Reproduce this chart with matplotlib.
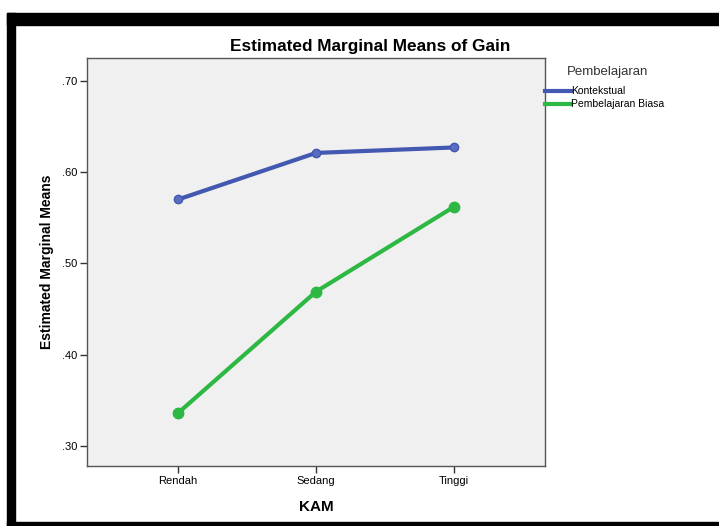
import numpy as np
import matplotlib.pyplot as plt
from matplotlib.patches import Rectangle
from matplotlib.lines import Line2D

plt.rcParams['font.family'] = ['Liberation Sans', 'DejaVu Sans']

categories = ['Rendah', 'Sedang', 'Tinggi']
kontekstual = [0.570, 0.621, 0.627]
biasa = [0.336, 0.469, 0.562]
yticks = [0.30, 0.40, 0.50, 0.60, 0.70]
ytick_labels = ['.30', '.40', '.50', '.60', '.70']

W, H = 719, 526
fig = plt.figure(figsize=(W / 100, H / 100), dpi=100)

def fx(px):
    return px / W

def fy(py):
    return 1 - py / H

# black screenshot borders
for x0, y0, x1, y1 in [(7, 13, 719, 25), (7, 13, 15, 526), (7, 522, 719, 526)]:
    fig.patches.append(Rectangle((fx(x0), fy(y1)), fx(x1) - fx(x0), fy(y0) - fy(y1),
                                 transform=fig.transFigure, color='black', zorder=0))

ax = fig.add_axes([fx(87), fy(466), fx(545) - fx(87), fy(58) - fy(466)])
ax.set_facecolor('#F0F0F0')

x = np.arange(len(categories))
blue = '#4358B0'
green = '#2DB843'
ax.plot(x, kontekstual, color=blue, linewidth=3, marker='o', markersize=6,
        markerfacecolor='#5A6DC0', markeredgecolor=blue)
ax.plot(x, biasa, color=green, linewidth=3, marker='o', markersize=7.5)

ax.set_xlim(-0.66, 2.66)
ax.set_ylim(0.278, 0.725)
ax.set_xticks(x)
ax.set_xticklabels(categories, fontsize=8)
ax.set_yticks(yticks)
ax.set_yticklabels(ytick_labels, fontsize=8)
ax.tick_params(direction='out', length=5, width=1, color='#333333', pad=2)
for s in ax.spines.values():
    s.set_color('#555555')
    s.set_linewidth(1)

ax.set_xlabel('KAM', fontsize=11, fontweight='bold', labelpad=10)
ax.set_ylabel('Estimated Marginal Means', fontsize=10, fontweight='bold', labelpad=6)
fig.text(fx(370), fy(46), 'Estimated Marginal Means of Gain', fontsize=12.4,
         fontweight='bold', ha='center', va='center')

# legend
fig.text(fx(567), fy(72), 'Pembelajaran', fontsize=9.5, color='#333333', va='center')
for yy, col, lab in [(91, blue, 'Kontekstual'), (104, green, 'Pembelajaran Biasa')]:
    fig.lines.append(Line2D([fx(545), fx(571)], [fy(yy), fy(yy)], color=col,
                            linewidth=3, transform=fig.transFigure))
    fig.text(fx(571), fy(yy), lab, fontsize=7.5, va='center')

fig.savefig('out.png', dpi=100)
